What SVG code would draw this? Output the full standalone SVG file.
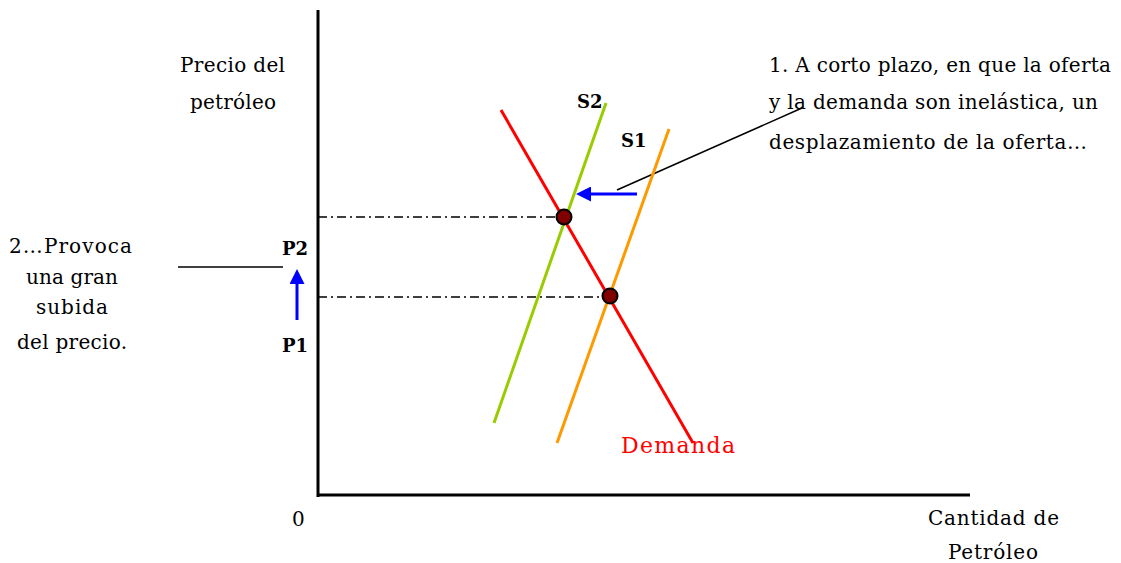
<svg xmlns="http://www.w3.org/2000/svg" width="1121" height="563" viewBox="0 0 1121 563">
<defs>
<style>
text{font-family:"DejaVu Serif","Liberation Serif",serif;font-size:20px;fill:#000}
.b{font-weight:bold;font-size:18px}
.ax{stroke:#000;stroke-width:3;fill:none}
.dd{stroke:#000;stroke-width:1.3;stroke-dasharray:9,4,2,4;fill:none}
.pt{fill:#800000;stroke:#000;stroke-width:2}
.blue{stroke:#0000FF;stroke-width:3;fill:none}
.thin{stroke:#000;stroke-width:1.5;fill:none}
</style>
<marker id="ah" viewBox="0 0 10 10" refX="2" refY="5" markerWidth="5" markerHeight="5" orient="auto" markerUnits="strokeWidth">
<path d="M0,0 L10,5 L0,10 z" fill="#0000FF"/>
</marker>
</defs>
<g id="axes">
<line class="ax" x1="318" y1="10" x2="318" y2="497"/>
<line class="ax" x1="317" y1="495" x2="970" y2="495"/>
</g>
<g id="connectors">
<line class="dd" x1="318" y1="217" x2="557" y2="217"/>
<line class="dd" x1="318" y1="297" x2="602" y2="297"/>
<line class="blue" x1="637" y1="194" x2="588" y2="194" marker-end="url(#ah)"/>
<line class="blue" x1="297" y1="320" x2="297" y2="281" marker-end="url(#ah)"/>
<line class="thin" x1="617" y1="190" x2="802" y2="108"/>
<line class="thin" x1="178" y1="267" x2="283" y2="267"/>
</g>
<g id="curve-s2"><line x1="494" y1="423" x2="606" y2="103" stroke="#99CC00" stroke-width="3"/></g>
<g id="curve-s1"><line x1="557" y1="443" x2="669" y2="129" stroke="#FF9900" stroke-width="3"/></g>
<g id="curve-demanda"><line x1="501" y1="110" x2="693" y2="443" stroke="#FF0000" stroke-width="3"/></g>
<g id="eq2"><circle class="pt" cx="564" cy="217" r="7.5"/></g>
<g id="eq1"><circle class="pt" cx="610" cy="296" r="7.5"/></g>
<g id="labels">
<text class="b" x="577" y="108">S2</text>
<text class="b" x="621" y="147">S1</text>
<text class="b" x="282" y="255">P2</text>
<text class="b" x="282" y="352">P1</text>
<text x="180" y="72" textLength="105">Precio del</text>
<text x="190" y="109" textLength="86">petróleo</text>
<text x="292" y="526">0</text>
<text x="928" y="525" textLength="131">Cantidad de</text>
<text x="948" y="559" textLength="90">Petróleo</text>
<text x="621" y="453" textLength="114" style="fill:#FF0000;font-size:22px">Demanda</text>
<text x="769" y="72" textLength="342">1. A corto plazo, en que la oferta</text>
<text x="769" y="109" textLength="329">y la demanda son inelástica, un</text>
<text x="769" y="149" textLength="318">desplazamiento de la oferta…</text>
<text x="9" y="253" textLength="123">2…Provoca</text>
<text x="26" y="284" textLength="92">una gran</text>
<text x="36" y="314" textLength="72">subida</text>
<text x="17" y="349" textLength="110">del precio.</text>
</g>
</svg>
